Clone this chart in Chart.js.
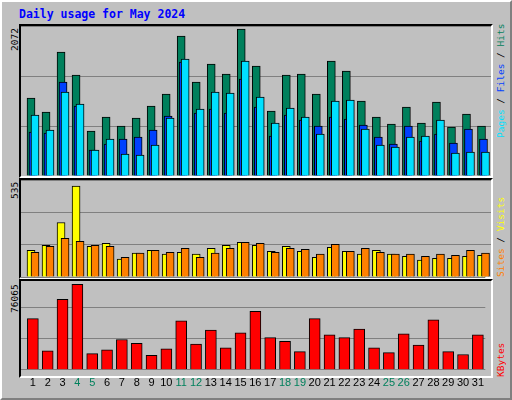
<!DOCTYPE html>
<html>
<head>
<meta charset="utf-8">
<script src="https://cdn.jsdelivr.net/npm/chart.js@4.4.1/dist/chart.umd.min.js"></script>
<style>
  body { margin: 0; background: #fff; }
  #wrap { position: relative; width: 512px; height: 400px; background: #c0c0c0; overflow: hidden; }
  .bevel { position: absolute; left: 0; top: 0; width: 508px; height: 396px;
    border-top: 2px solid #fff; border-left: 2px solid #fff; border-right: 2px solid #808080; border-bottom: 2px solid #808080; }
  .box { position: absolute; box-sizing: border-box; border-top: 2px solid #000; border-left: 2px solid #000;
    border-right: 2px solid #fff; border-bottom: 2px solid #fff; }
  canvas { position: absolute; }
  .title { position: absolute; left: 19px; top: 7px; font: bold 11.5px "DejaVu Sans Mono", monospace; color: #0000ff; }
  .vlab { position: absolute; transform-origin: left top; transform: rotate(-90deg);
    font: 9.5px "DejaVu Sans Mono", monospace; white-space: nowrap; }
</style>
</head>
<body>
<div id="wrap">
  <div class="bevel"></div>
  <div class="title">Daily usage for May 2024</div>
  <div class="box" style="left:19px;top:24px;width:474px;height:154px"></div>
  <div class="box" style="left:19px;top:178px;width:474px;height:101px"></div>
  <div class="box" style="left:19px;top:279px;width:474px;height:99px"></div>
  <canvas id="c1" width="470" height="150" style="left:21px;top:26px"></canvas>
  <canvas id="c2" width="470" height="97" style="left:21px;top:180px"></canvas>
  <canvas id="c3" width="470" height="123" style="left:21px;top:277px"></canvas>
  <div class="vlab" style="left:9px;top:51px;color:#000">2072</div>
  <div class="vlab" style="left:9px;top:199px;color:#000">535</div>
  <div class="vlab" style="left:9px;top:313px;color:#000">76065</div>
  <div class="vlab" style="left:495px;top:138px"><span style="color:#00e0ff">Pages</span> / <span style="color:#0040ff">Files</span> / <span style="color:#00805c">Hits</span></div>
  <div class="vlab" style="left:495px;top:277px"><span style="color:#ff8000">Sites</span> / <span style="color:#ffff00">Visits</span></div>
  <div class="vlab" style="left:495px;top:377px"><span style="color:#ff0000">KBytes</span></div>
</div>
<script>
const days = [1,2,3,4,5,6,7,8,9,10,11,12,13,14,15,16,17,18,19,20,21,22,23,24,25,26,27,28,29,30,31];
const weekendDays = [4,5,11,12,18,19,25,26];
const hits = [1100,902,1748,1424,634,832,705,818,987,1156,1973,1325,1579,1438,2072,1550,916,1424,1438,1156,1621,1480,1057,832,733,973,747,1043,691,874,705];
const files = [620,606,1325,987,366,451,521,550,648,846,1607,888,944,888,1367,973,564,860,789,705,832,803,719,550,451,705,493,592,465,662,521];
const pages = [860,648,1184,1015,366,521,310,296,437,818,1649,944,1184,1170,1621,1114,747,958,832,592,1057,1071,662,437,409,550,564,789,324,338,338];
const sites = [157,186,320,535,180,198,105,140,157,134,145,134,169,186,204,186,151,180,151,116,174,151,134,157,134,122,99,110,110,122,128];
const visits = [145,180,227,209,186,180,116,140,157,145,169,116,140,169,204,198,145,169,163,134,192,151,169,145,134,134,122,134,128,157,140];
const kbytes = [45560,16930,62740,76065,14450,17780,26930,23620,12780,18610,43610,22780,35280,19450,32780,51950,28610,25280,16110,45560,31110,28610,36110,19450,15280,31950,21950,44450,16110,13610,31110];

function pts(values, shift) {
  return values.map((v, i) => ({ x: days[i] + shift, y: v }));
}

function bars(label, values, shift, color, width) {
  return { label: label, data: pts(values, shift), backgroundColor: color, borderColor: '#000',
    borderWidth: 1, barThickness: width, grouped: false };
}

function yAxis(max) {
  return { min: 0, max: max, ticks: { display: false, stepSize: max / 3 },
    grid: { color: '#808080', drawTicks: false, lineWidth: 1 }, border: { display: false },
    afterFit: function (axis) { axis.width = 0; } };
}

function xAxis(show) {
  return {
    type: 'linear', min: 0.2, max: 31.5, display: show, offset: false,
    grid: { display: false, drawTicks: false }, border: { display: false },
    afterBuildTicks: function (axis) { axis.ticks = days.map(d => ({ value: d })); },
    ticks: {
      autoSkip: false, maxRotation: 0, padding: 7,
      font: { family: 'Liberation Sans', size: 11 },
      color: ctx => weekendDays.includes(ctx.tick.value) ? '#00805c' : '#000',
      callback: v => String(v)
    }
  };
}

function makeChart(id, datasets, max, showX, padBottom) {
  new Chart(document.getElementById(id), {
    type: 'bar',
    data: { datasets: datasets },
    options: {
      responsive: false, animation: false, devicePixelRatio: 1,
      layout: { padding: { left: 0, right: 0, top: 0, bottom: padBottom } },
      plugins: { legend: { display: false }, tooltip: { enabled: false } },
      scales: { x: xAxis(showX), y: yAxis(max) }
    }
  });
}

// later datasets are drawn behind earlier ones
makeChart('c1', [
  bars('Pages', pages, 0.133, '#00e0ff', 8),
  bars('Files', files, 0, '#0040ff', 8),
  bars('Hits', hits, -0.133, '#00805c', 8)
], 2115, false, 0);

makeChart('c2', [
  bars('Visits', visits, 0.133, '#ff8000', 8),
  bars('Sites', sites, -0.133, '#ffff00', 8)
], 570, false, 0);

makeChart('c3', [
  bars('KBytes', kbytes, 0, '#ff0000', 11)
], 82500, true, 3);
</script>
</body>
</html>
